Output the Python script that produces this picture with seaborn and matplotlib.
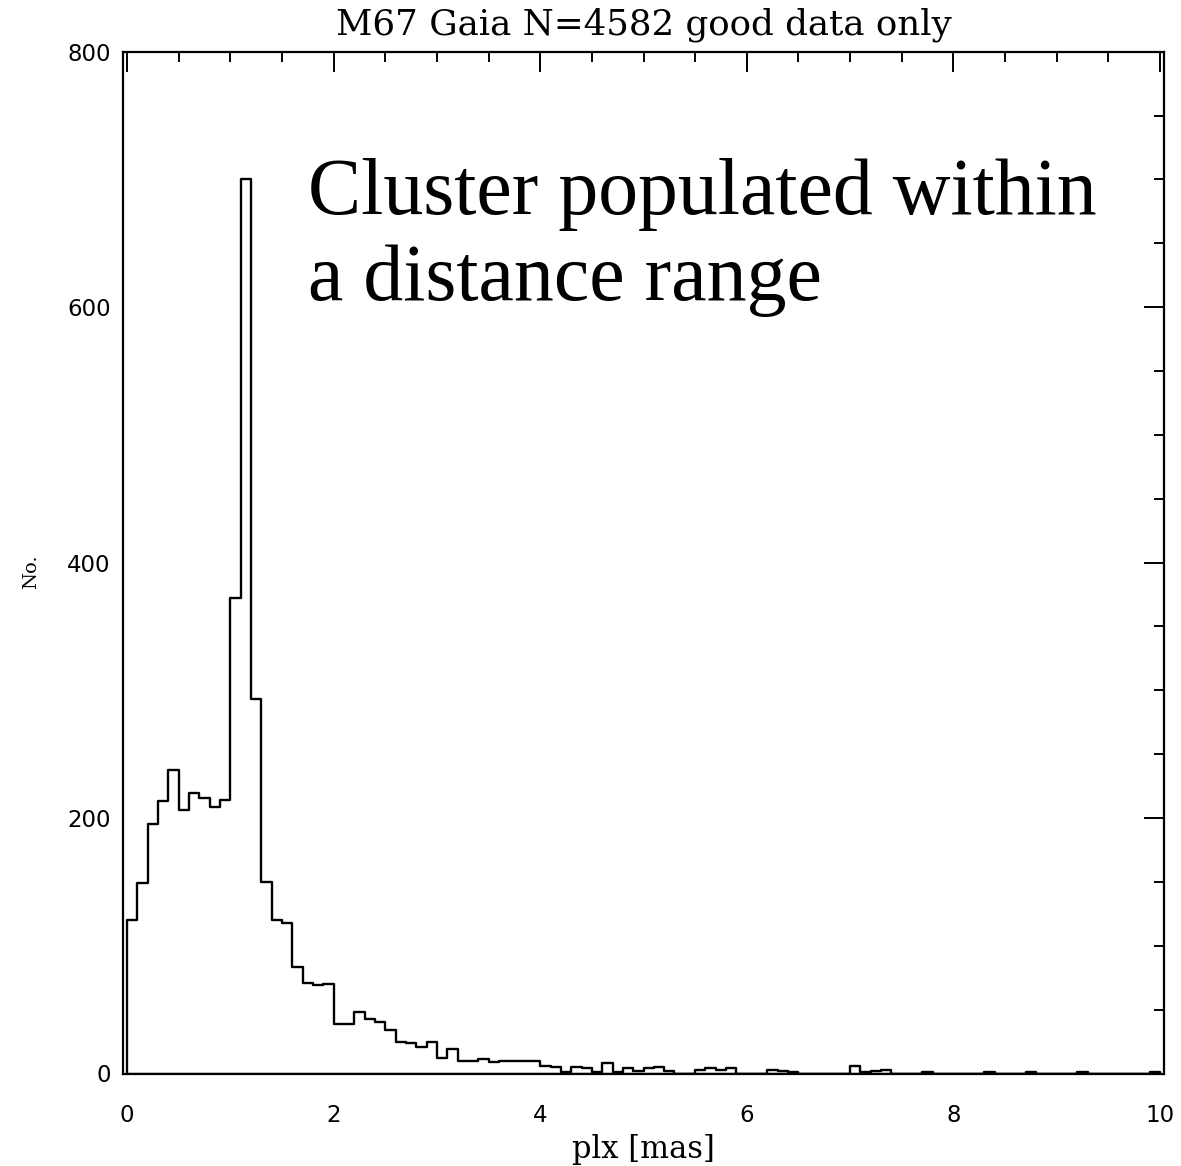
import numpy as np
import pandas as pd
import matplotlib
matplotlib.use("Agg")
import matplotlib.pyplot as plt
import seaborn as sns
from matplotlib.ticker import MultipleLocator

# ---- data ----
bin_width = 0.1
bin_left = [round(i * bin_width, 1) for i in range(100)]
counts = [
    120, 149, 195, 213, 238, 206, 220, 216, 209, 214,
    372, 700, 293, 150, 120, 118, 83, 71, 69, 70,
    39, 39, 48, 43, 40, 34, 25, 24, 21, 25,
    12, 19, 10, 10, 11, 9, 10, 10, 10, 10,
    6, 5, 1, 5, 4, 1, 8, 1, 4, 2,
    4, 5, 2, 0, 0, 3, 4, 3, 4, 0,
    0, 0, 3, 2, 1, 0, 0, 0, 0, 0,
    6, 1, 2, 3, 0, 0, 0, 1, 0, 0,
    0, 0, 0, 1, 0, 0, 0, 1, 0, 0,
    0, 0, 1, 0, 0, 0, 0, 0, 0, 1,
]
x_ticks = [0, 2, 4, 6, 8, 10]
y_ticks = [0, 200, 400, 600, 800]
title_text = "M67 Gaia N=4582 good data only"
xlabel_text = "plx [mas]"
ylabel_text = "No."
annotation_lines = ["Cluster populated within", "a distance range"]

df = pd.DataFrame({"plx": np.array(bin_left) + bin_width / 2, "n": counts})

sns.set_style("white")
plt.rcParams["font.family"] = ["DejaVu Sans"]
plt.rcParams["text.color"] = "black"
plt.rcParams["xtick.color"] = "black"
plt.rcParams["ytick.color"] = "black"
plt.rcParams["axes.labelcolor"] = "black"

W, H = 1181, 1166
fig = plt.figure(figsize=(W / 100, H / 100), dpi=100)
ax = fig.add_axes([123 / W, 1 - 1073.5 / H, (1164 - 123) / W, (1073.5 - 51.7) / H])

sns.histplot(data=df, x="plx", weights="n", binwidth=bin_width, binrange=(0, 10),
             element="step", fill=True, color="black", facecolor="none",
             edgecolor="black", linewidth=1.7, ax=ax)

ax.set_xlim(-0.04, 10.04)
ax.set_ylim(0, 800)
ax.set_xticks(x_ticks)
ax.set_yticks(y_ticks)
ax.xaxis.set_minor_locator(MultipleLocator(0.5))
ax.yaxis.set_minor_locator(MultipleLocator(50))
ax.set_xticklabels([str(t) for t in x_ticks])
ax.set_yticklabels([str(t) for t in y_ticks])
ax.tick_params(which="major", direction="in", top=True, right=True,
               length=14.5, width=1.4, labelsize=16.5, colors="black",
               labelcolor="black")
ax.tick_params(which="minor", direction="in", top=True, right=True,
               length=7.5, width=1.4)
ax.tick_params(axis="x", which="major", pad=22)
ax.tick_params(axis="y", which="major", pad=9)
for s in ax.spines.values():
    s.set_linewidth(1.6)
    s.set_color("black")
ax.set_xlabel("")
ax.set_ylabel("")

fig.canvas.draw()
renderer = fig.canvas.get_renderer()

def fit_text(t, target_w):
    bb = t.get_window_extent(renderer=renderer)
    t.set_fontsize(t.get_fontsize() * target_w / bb.width)

# title
tt = fig.text(643.5 / W, 1 - 35 / H, title_text, ha="center", va="baseline",
              family="DejaVu Serif", fontsize=20, color="black")
fit_text(tt, 615)
# axis labels
xl = fig.text(643.5 / W, 1 - 1158 / H, xlabel_text, ha="center", va="baseline",
              family="DejaVu Serif", fontsize=17, color="black")
fit_text(xl, 143)
yl = fig.text(31 / W, 1 - 572 / H, ylabel_text, ha="center", va="center",
              rotation=90, family="DejaVu Serif", fontsize=14, color="black")

# annotation
a1 = fig.text(308 / W, 1 - 214 / H, annotation_lines[0], ha="left", va="baseline",
              family="Liberation Serif", fontsize=60, color="black")
fit_text(a1, 789)
a2 = fig.text(308 / W, 1 - 300 / H, annotation_lines[1], ha="left", va="baseline",
              family="Liberation Serif", fontsize=a1.get_fontsize(), color="black")

fig.savefig("out.png", dpi=100, facecolor="white")
